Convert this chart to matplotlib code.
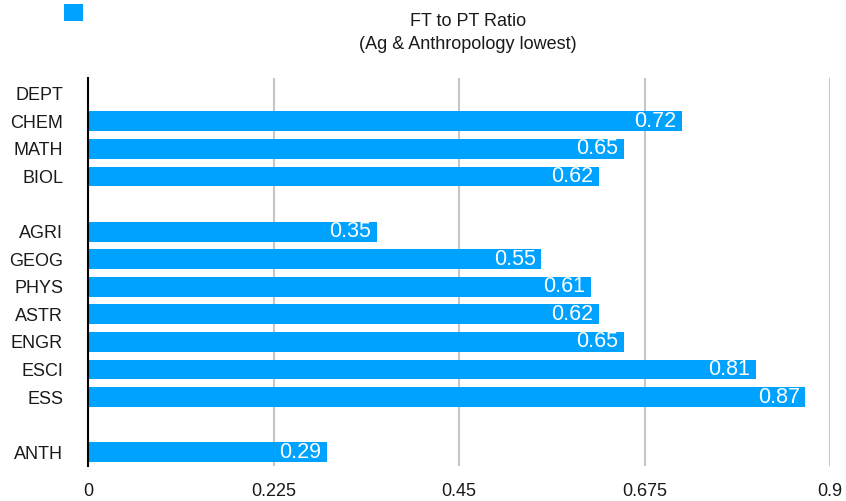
import matplotlib
matplotlib.use('Agg')
import matplotlib.pyplot as plt
from matplotlib.patches import Patch
import numpy as np

BLUE = '#00A2FF'
GRID = '#c6c6c6'
TEXT = '#1a1a1a'

plt.rcParams['font.family'] = ['Liberation Sans', 'DejaVu Sans']

depts = ['DEPT', 'CHEM', 'MATH', 'BIOL', '', 'AGRI', 'GEOG', 'PHYS',
         'ASTR', 'ENGR', 'ESCI', 'ESS', '', 'ANTH']
ratios = [None, 0.72, 0.65, 0.62, None, 0.35, 0.55, 0.61,
          0.62, 0.65, 0.81, 0.87, None, 0.29]
xticks = [0, 0.225, 0.45, 0.675, 0.9]
xtick_labels = ['0', '0.225', '0.45', '0.675', '0.9']

fig = plt.figure(figsize=(8.46, 5.01), dpi=100)
ax = fig.add_axes([88 / 846, 1 - 466 / 501, (830 - 88) / 846, (466 - 78) / 501])

y = np.arange(len(depts))
vals = [np.nan if v is None else v for v in ratios]
bars = ax.barh(y, vals, height=0.72, color=BLUE, edgecolor='none', zorder=3)

for yi, v in zip(y, ratios):
    if v is None:
        continue
    ax.annotate(f'{v:.2f}', xy=(v, yi), xytext=(-4, 0), textcoords='offset points',
                ha='right', va='center', color='white', fontsize=15.5, zorder=4)

ax.set_xlim(0, 0.9)
ax.set_ylim(len(depts) - 0.5, -0.57)
ax.set_yticks(y)
ax.set_yticklabels(depts)
ax.set_xticks(xticks)
ax.set_xticklabels(xtick_labels)
ax.tick_params(axis='y', length=0, pad=18, labelsize=13, labelcolor=TEXT)
ax.tick_params(axis='x', length=0, pad=12, labelsize=13, labelcolor=TEXT)

ax.grid(axis='x', color=GRID, linewidth=1.5, zorder=0)
ax.grid(axis='y', visible=False)
for side in ['top', 'right', 'bottom']:
    ax.spines[side].set_visible(False)
ax.spines['left'].set_color('black')
ax.spines['left'].set_linewidth(1.5)
ax.spines['left'].set_zorder(5)

fig.text(0.553, 1 - 33 / 501, 'FT to PT Ratio\n(Ag & Anthropology lowest)',
         ha='center', va='center', fontsize=13, color=TEXT, linespacing=1.5)

fig.legend(handles=[Patch(facecolor=BLUE, edgecolor='none', label=' ')],
           loc='upper left', bbox_to_anchor=(62 / 846, 1 - 2 / 501), frameon=False,
           prop={'size': 13}, handlelength=1.05, handleheight=1.05,
           borderaxespad=0, borderpad=0.1)

fig.savefig('out.png', dpi=100, facecolor='white')
